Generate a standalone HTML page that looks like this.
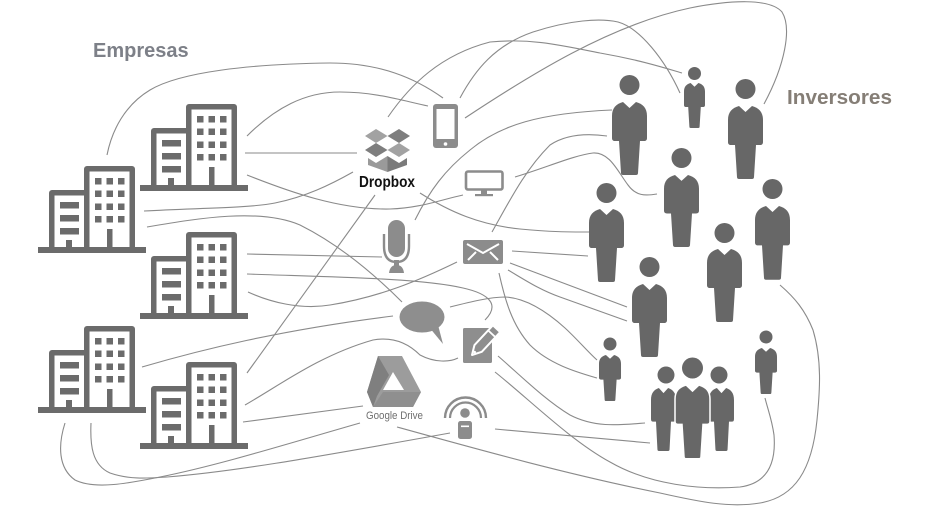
<!DOCTYPE html>
<html>
<head>
<meta charset="utf-8">
<style>
html,body{margin:0;padding:0;background:#fff;}
svg{display:block;}
</style>
</head>
<body>
<svg width="933" height="508" viewBox="0 0 933 508" xmlns="http://www.w3.org/2000/svg">
<rect width="933" height="508" fill="#fff"/>

<!-- connector lines -->
<g fill="none" stroke="#8a8a8a" stroke-width="1.1">
<path d="M107,155 C112,130 125,105 150,90 C180,72 250,64 330,63 C380,63 415,78 443,98"/>
<path d="M247,136 C275,108 305,92 340,92 C375,92 400,100 428,106"/>
<path d="M465,118 C530,75 610,25 690,8 C730,0 770,-2 782,12 C792,28 785,65 764,104"/>
<path d="M460,98 C475,70 495,45 533,32 C570,20 600,18 618,22 C640,28 665,60 680,93"/>
<path d="M388,117 C410,85 440,55 490,42 C530,38 560,45 600,53 C640,60 665,68 682,73"/>
<path d="M415,220 C430,190 445,170 470,150 C500,125 540,113 612,110"/>
<path d="M492,232 C510,200 525,170 550,145 C565,135 585,133 607,136"/>
<path d="M515,177 C545,168 575,155 593,153 C610,152 618,172 628,185 C636,196 645,196 657,194"/>
<path d="M247,175 C290,192 340,210 390,209 C420,208 440,200 463,195"/>
<path d="M144,211 C200,208 250,208 275,203 C305,197 330,185 353,172"/>
<path d="M147,227 C200,218 260,208 300,225 C340,245 375,275 402,302"/>
<path d="M245,153 L357,153"/>
<path d="M420,193 C450,212 480,225 520,229 C550,232 570,232 589,232"/>
<path d="M375,195 L247,373"/>
<path d="M247,254 L382,257"/>
<path d="M247,274 C330,277 420,278 463,288 C490,294 500,305 485,320"/>
<path d="M248,292 C270,302 300,310 330,305 C380,297 420,280 457,262"/>
<path d="M142,367 C200,350 280,330 393,316"/>
<path d="M450,307 C470,302 490,297 505,297 C525,298 545,310 565,328 C578,340 588,352 597,360"/>
<path d="M512,251 L588,256"/>
<path d="M510,263 L627,307"/>
<path d="M508,270 C525,280 540,290 560,297 L627,321"/>
<path d="M499,273 C505,300 512,325 530,345 C550,365 580,373 597,378"/>
<path d="M498,356 C520,375 545,400 570,415 C595,428 620,425 645,423"/>
<path d="M495,372 C530,400 570,440 610,462 C650,485 700,490 740,487 C770,483 776,460 774,435 C772,420 768,410 765,398"/>
<path d="M495,429 L650,443"/>
<path d="M397,427 C480,450 570,475 660,493 C700,502 730,508 760,503 C795,497 812,470 817,420 C820,390 822,360 813,330 C805,310 795,298 780,285"/>
<path d="M245,405 C280,385 320,355 373,340 C395,336 410,345 420,355 C435,363 450,362 458,358"/>
<path d="M243,422 L363,406"/>
<path d="M65,423 C58,445 58,468 75,480 C95,490 130,483 160,477 C220,465 290,443 360,423"/>
<path d="M91,423 C90,445 92,465 110,473 C130,480 150,478 167,477 C230,472 300,460 450,433"/>
</g>

<!-- labels -->
<text x="93" y="57" font-family="Liberation Sans, sans-serif" font-weight="bold" font-size="20" fill="#7d8088">Empresas</text>
<text x="787" y="104" font-family="Liberation Sans, sans-serif" font-weight="bold" font-size="20" fill="#857e76" textLength="105" lengthAdjust="spacingAndGlyphs">Inversores</text>

<!-- buildings -->
<g fill="#6b6b6b">
<g transform="translate(140,104)">
<rect x="11" y="24" width="40" height="60" rx="3"/><rect x="16.5" y="29.5" width="30" height="55" fill="#fff"/>
<rect x="46" y="0" width="51" height="84" rx="3"/><rect x="51.5" y="5.5" width="40" height="78" fill="#fff"/>
<rect x="22" y="36" width="19" height="6.5"/><rect x="22" y="49" width="19" height="6.5"/><rect x="22" y="62" width="19" height="6.5"/>
<rect x="28" y="74" width="6" height="8"/>
<rect x="57" y="12" width="6.5" height="6.5"/><rect x="68.5" y="12" width="6.5" height="6.5"/><rect x="80" y="12" width="6.5" height="6.5"/>
<rect x="57" y="24.5" width="6.5" height="6.5"/><rect x="68.5" y="24.5" width="6.5" height="6.5"/><rect x="80" y="24.5" width="6.5" height="6.5"/>
<rect x="57" y="37.5" width="6.5" height="6.5"/><rect x="68.5" y="37.5" width="6.5" height="6.5"/><rect x="80" y="37.5" width="6.5" height="6.5"/>
<rect x="57" y="50" width="6.5" height="6.5"/><rect x="68.5" y="50" width="6.5" height="6.5"/><rect x="80" y="50" width="6.5" height="6.5"/>
<rect x="69" y="63" width="5.5" height="19"/>
<rect x="0" y="81" width="108" height="6"/>
</g>
<g transform="translate(38,166)">
<rect x="11" y="24" width="40" height="60" rx="3"/><rect x="16.5" y="29.5" width="30" height="55" fill="#fff"/>
<rect x="46" y="0" width="51" height="84" rx="3"/><rect x="51.5" y="5.5" width="40" height="78" fill="#fff"/>
<rect x="22" y="36" width="19" height="6.5"/><rect x="22" y="49" width="19" height="6.5"/><rect x="22" y="62" width="19" height="6.5"/>
<rect x="28" y="74" width="6" height="8"/>
<rect x="57" y="12" width="6.5" height="6.5"/><rect x="68.5" y="12" width="6.5" height="6.5"/><rect x="80" y="12" width="6.5" height="6.5"/>
<rect x="57" y="24.5" width="6.5" height="6.5"/><rect x="68.5" y="24.5" width="6.5" height="6.5"/><rect x="80" y="24.5" width="6.5" height="6.5"/>
<rect x="57" y="37.5" width="6.5" height="6.5"/><rect x="68.5" y="37.5" width="6.5" height="6.5"/><rect x="80" y="37.5" width="6.5" height="6.5"/>
<rect x="57" y="50" width="6.5" height="6.5"/><rect x="68.5" y="50" width="6.5" height="6.5"/><rect x="80" y="50" width="6.5" height="6.5"/>
<rect x="69" y="63" width="5.5" height="19"/>
<rect x="0" y="81" width="108" height="6"/>
</g>
<g transform="translate(140,232)">
<rect x="11" y="24" width="40" height="60" rx="3"/><rect x="16.5" y="29.5" width="30" height="55" fill="#fff"/>
<rect x="46" y="0" width="51" height="84" rx="3"/><rect x="51.5" y="5.5" width="40" height="78" fill="#fff"/>
<rect x="22" y="36" width="19" height="6.5"/><rect x="22" y="49" width="19" height="6.5"/><rect x="22" y="62" width="19" height="6.5"/>
<rect x="28" y="74" width="6" height="8"/>
<rect x="57" y="12" width="6.5" height="6.5"/><rect x="68.5" y="12" width="6.5" height="6.5"/><rect x="80" y="12" width="6.5" height="6.5"/>
<rect x="57" y="24.5" width="6.5" height="6.5"/><rect x="68.5" y="24.5" width="6.5" height="6.5"/><rect x="80" y="24.5" width="6.5" height="6.5"/>
<rect x="57" y="37.5" width="6.5" height="6.5"/><rect x="68.5" y="37.5" width="6.5" height="6.5"/><rect x="80" y="37.5" width="6.5" height="6.5"/>
<rect x="57" y="50" width="6.5" height="6.5"/><rect x="68.5" y="50" width="6.5" height="6.5"/><rect x="80" y="50" width="6.5" height="6.5"/>
<rect x="69" y="63" width="5.5" height="19"/>
<rect x="0" y="81" width="108" height="6"/>
</g>
<g transform="translate(38,326)">
<rect x="11" y="24" width="40" height="60" rx="3"/><rect x="16.5" y="29.5" width="30" height="55" fill="#fff"/>
<rect x="46" y="0" width="51" height="84" rx="3"/><rect x="51.5" y="5.5" width="40" height="78" fill="#fff"/>
<rect x="22" y="36" width="19" height="6.5"/><rect x="22" y="49" width="19" height="6.5"/><rect x="22" y="62" width="19" height="6.5"/>
<rect x="28" y="74" width="6" height="8"/>
<rect x="57" y="12" width="6.5" height="6.5"/><rect x="68.5" y="12" width="6.5" height="6.5"/><rect x="80" y="12" width="6.5" height="6.5"/>
<rect x="57" y="24.5" width="6.5" height="6.5"/><rect x="68.5" y="24.5" width="6.5" height="6.5"/><rect x="80" y="24.5" width="6.5" height="6.5"/>
<rect x="57" y="37.5" width="6.5" height="6.5"/><rect x="68.5" y="37.5" width="6.5" height="6.5"/><rect x="80" y="37.5" width="6.5" height="6.5"/>
<rect x="57" y="50" width="6.5" height="6.5"/><rect x="68.5" y="50" width="6.5" height="6.5"/><rect x="80" y="50" width="6.5" height="6.5"/>
<rect x="69" y="63" width="5.5" height="19"/>
<rect x="0" y="81" width="108" height="6"/>
</g>
<g transform="translate(140,362)">
<rect x="11" y="24" width="40" height="60" rx="3"/><rect x="16.5" y="29.5" width="30" height="55" fill="#fff"/>
<rect x="46" y="0" width="51" height="84" rx="3"/><rect x="51.5" y="5.5" width="40" height="78" fill="#fff"/>
<rect x="22" y="36" width="19" height="6.5"/><rect x="22" y="49" width="19" height="6.5"/><rect x="22" y="62" width="19" height="6.5"/>
<rect x="28" y="74" width="6" height="8"/>
<rect x="57" y="12" width="6.5" height="6.5"/><rect x="68.5" y="12" width="6.5" height="6.5"/><rect x="80" y="12" width="6.5" height="6.5"/>
<rect x="57" y="24.5" width="6.5" height="6.5"/><rect x="68.5" y="24.5" width="6.5" height="6.5"/><rect x="80" y="24.5" width="6.5" height="6.5"/>
<rect x="57" y="37.5" width="6.5" height="6.5"/><rect x="68.5" y="37.5" width="6.5" height="6.5"/><rect x="80" y="37.5" width="6.5" height="6.5"/>
<rect x="57" y="50" width="6.5" height="6.5"/><rect x="68.5" y="50" width="6.5" height="6.5"/><rect x="80" y="50" width="6.5" height="6.5"/>
<rect x="69" y="63" width="5.5" height="19"/>
<rect x="0" y="81" width="108" height="6"/>
</g>
</g>

<!-- phone -->
<rect x="433" y="104" width="25" height="44" rx="3" fill="#8c8c8c"/>
<rect x="436.5" y="109" width="18" height="30" fill="#fff"/>
<circle cx="445.5" cy="144" r="1.8" fill="#fff"/>

<!-- dropbox -->
<g>
<polygon points="365,136 376,129 387.5,136 376,143" fill="#a2a2a2"/>
<polygon points="387.5,136 399,129 410,136 399,143" fill="#7e7e7e"/>
<polygon points="365,150 376,143 387.5,150 376,157" fill="#7e7e7e"/>
<polygon points="387.5,150 399,143 410,150 399,157" fill="#a2a2a2"/>
<polygon points="368,158 376,163 387.5,156 387.5,172 368,165" fill="#9a9a9a"/>
<polygon points="387.5,156 399,163 407,158 407,165 387.5,172" fill="#7a7a7a"/>
</g>
<text x="359" y="187" font-family="Liberation Sans, sans-serif" font-weight="bold" font-size="16" fill="#111" textLength="56" lengthAdjust="spacingAndGlyphs">Dropbox</text>

<!-- monitor -->
<rect x="466" y="171.5" width="36.5" height="18" rx="2" fill="#fff" stroke="#8c8c8c" stroke-width="2.6"/>
<rect x="481" y="190" width="6" height="4" fill="#8c8c8c"/>
<rect x="475" y="194" width="18" height="2.2" fill="#8c8c8c"/>

<!-- microphone -->
<rect x="388" y="220" width="17" height="37" rx="8.5" fill="#8c8c8c"/>
<path d="M384,234 L384,246 Q384,262 396.5,262 Q409,262 409,246 L409,234" fill="none" stroke="#8c8c8c" stroke-width="2.4"/>
<rect x="394" y="260" width="5" height="7" fill="#8c8c8c"/>
<path d="M389,273 Q390,265 396.5,265 Q403,265 404,273 Z" fill="#8c8c8c"/>

<!-- envelope -->
<rect x="463" y="240" width="40" height="24" rx="2" fill="#8c8c8c"/>
<polyline points="467,244 483,253 499,244" fill="none" stroke="#fff" stroke-width="2"/>
<line x1="468" y1="260" x2="476" y2="252" stroke="#fff" stroke-width="2"/>
<line x1="498" y1="260" x2="490" y2="252" stroke="#fff" stroke-width="2"/>

<!-- speech bubble -->
<ellipse cx="422" cy="317" rx="22.5" ry="15.5" fill="#8e8e8e"/>
<polygon points="429,327 443,344 438,325" fill="#8e8e8e"/>

<!-- edit -->
<rect x="463" y="328" width="29" height="35" rx="1.5" fill="#8e8e8e"/>
<g transform="translate(472,355) rotate(-47)">
<polygon points="0,0 9,-5 36,-5 36,5 9,5" fill="#8e8e8e" stroke="#fff" stroke-width="2" stroke-linejoin="round"/>
<line x1="29" y1="-5" x2="29" y2="5" stroke="#fff" stroke-width="1.8"/>
<circle cx="4" cy="0" r="1.3" fill="#fff"/>
</g>

<!-- google drive -->
<polygon points="378,356 402,356 421,392 413,407 373,407 367,392" fill="#9c9c9c"/>
<polygon points="378,356 389,375 377,396 373,407 367,392" fill="#7f7f7f"/>
<polygon points="383,392 421,392 413,407 373,407" fill="#8f8f8f"/>
<polygon points="393,372 383,390 404,390" fill="#fff"/>
<text x="366" y="419" font-family="Liberation Sans, sans-serif" font-size="11" fill="#6e6e6e" textLength="57" lengthAdjust="spacingAndGlyphs">Google Drive</text>

<!-- podcast -->
<path d="M445,418 A20.5,20.5 0 0 1 486,418" fill="none" stroke="#8c8c8c" stroke-width="2.4"/>
<path d="M450,418 A15.5,15.5 0 0 1 481,418" fill="none" stroke="#8c8c8c" stroke-width="2.2"/>
<circle cx="465" cy="413" r="4.8" fill="#8c8c8c"/>
<rect x="458" y="421" width="14" height="18" rx="2.5" fill="#8c8c8c"/>
<rect x="461" y="425.5" width="8" height="1.6" fill="#fff"/>

<!-- people -->
<g fill="#676767">
<circle cx="629.5" cy="85" r="10"/>
<path transform="translate(612,102)" d="M11,0 L17.5,6 L24,0 C31,2 35,6 35,14 L35,36 C35,38 34,39 32,39 L28,39 L26,71 C26,72.5 25,73 24,73 L11,73 C10,73 9,72.5 9,71 L7,39 L3,39 C1,39 0,38 0,36 L0,14 C0,6 4,2 11,0 Z"/>
<circle cx="694.5" cy="73.5" r="6.5"/>
<path transform="translate(684,83) scale(0.6,0.616)" d="M11,0 L17.5,6 L24,0 C31,2 35,6 35,14 L35,36 C35,38 34,39 32,39 L28,39 L26,71 C26,72.5 25,73 24,73 L11,73 C10,73 9,72.5 9,71 L7,39 L3,39 C1,39 0,38 0,36 L0,14 C0,6 4,2 11,0 Z"/>
<circle cx="745.5" cy="89" r="10"/>
<path transform="translate(728,106)" d="M11,0 L17.5,6 L24,0 C31,2 35,6 35,14 L35,36 C35,38 34,39 32,39 L28,39 L26,71 C26,72.5 25,73 24,73 L11,73 C10,73 9,72.5 9,71 L7,39 L3,39 C1,39 0,38 0,36 L0,14 C0,6 4,2 11,0 Z"/>
<circle cx="681.5" cy="158" r="10"/>
<path transform="translate(664,175) scale(1,0.986)" d="M11,0 L17.5,6 L24,0 C31,2 35,6 35,14 L35,36 C35,38 34,39 32,39 L28,39 L26,71 C26,72.5 25,73 24,73 L11,73 C10,73 9,72.5 9,71 L7,39 L3,39 C1,39 0,38 0,36 L0,14 C0,6 4,2 11,0 Z"/>
<circle cx="606.5" cy="193" r="10"/>
<path transform="translate(589,209)" d="M11,0 L17.5,6 L24,0 C31,2 35,6 35,14 L35,36 C35,38 34,39 32,39 L28,39 L26,71 C26,72.5 25,73 24,73 L11,73 C10,73 9,72.5 9,71 L7,39 L3,39 C1,39 0,38 0,36 L0,14 C0,6 4,2 11,0 Z"/>
<circle cx="772.5" cy="189" r="10"/>
<path transform="translate(755,206) scale(1,1.01)" d="M11,0 L17.5,6 L24,0 C31,2 35,6 35,14 L35,36 C35,38 34,39 32,39 L28,39 L26,71 C26,72.5 25,73 24,73 L11,73 C10,73 9,72.5 9,71 L7,39 L3,39 C1,39 0,38 0,36 L0,14 C0,6 4,2 11,0 Z"/>
<circle cx="724.5" cy="233" r="10"/>
<path transform="translate(707,249)" d="M11,0 L17.5,6 L24,0 C31,2 35,6 35,14 L35,36 C35,38 34,39 32,39 L28,39 L26,71 C26,72.5 25,73 24,73 L11,73 C10,73 9,72.5 9,71 L7,39 L3,39 C1,39 0,38 0,36 L0,14 C0,6 4,2 11,0 Z"/>
<circle cx="649.5" cy="267" r="10"/>
<path transform="translate(632,284)" d="M11,0 L17.5,6 L24,0 C31,2 35,6 35,14 L35,36 C35,38 34,39 32,39 L28,39 L26,71 C26,72.5 25,73 24,73 L11,73 C10,73 9,72.5 9,71 L7,39 L3,39 C1,39 0,38 0,36 L0,14 C0,6 4,2 11,0 Z"/>
<circle cx="610" cy="344" r="6.5"/>
<path transform="translate(599,355) scale(0.629,0.63)" d="M11,0 L17.5,6 L24,0 C31,2 35,6 35,14 L35,36 C35,38 34,39 32,39 L28,39 L26,71 C26,72.5 25,73 24,73 L11,73 C10,73 9,72.5 9,71 L7,39 L3,39 C1,39 0,38 0,36 L0,14 C0,6 4,2 11,0 Z"/>
<circle cx="766" cy="337" r="6.5"/>
<path transform="translate(755,348) scale(0.629,0.63)" d="M11,0 L17.5,6 L24,0 C31,2 35,6 35,14 L35,36 C35,38 34,39 32,39 L28,39 L26,71 C26,72.5 25,73 24,73 L11,73 C10,73 9,72.5 9,71 L7,39 L3,39 C1,39 0,38 0,36 L0,14 C0,6 4,2 11,0 Z"/>
<!-- group -->
<circle cx="666" cy="375" r="8.5"/>
<path transform="translate(651,388) scale(0.714,0.863)" d="M11,0 L17.5,6 L24,0 C31,2 35,6 35,14 L35,36 C35,38 34,39 32,39 L28,39 L26,71 C26,72.5 25,73 24,73 L11,73 C10,73 9,72.5 9,71 L7,39 L3,39 C1,39 0,38 0,36 L0,14 C0,6 4,2 11,0 Z"/>
<circle cx="719" cy="375" r="8.5"/>
<path transform="translate(709,388) scale(0.714,0.863)" d="M11,0 L17.5,6 L24,0 C31,2 35,6 35,14 L35,36 C35,38 34,39 32,39 L28,39 L26,71 C26,72.5 25,73 24,73 L11,73 C10,73 9,72.5 9,71 L7,39 L3,39 C1,39 0,38 0,36 L0,14 C0,6 4,2 11,0 Z"/>
<circle cx="692.5" cy="368" r="10.5"/>
<path transform="translate(675,385) scale(1,1.01)" stroke="#fff" stroke-width="1.5" d="M11,0 L17.5,6 L24,0 C31,2 35,6 35,14 L35,36 C35,38 34,39 32,39 L28,39 L26,71 C26,72.5 25,73 24,73 L11,73 C10,73 9,72.5 9,71 L7,39 L3,39 C1,39 0,38 0,36 L0,14 C0,6 4,2 11,0 Z"/>
</g>
</svg>
</body>
</html>
